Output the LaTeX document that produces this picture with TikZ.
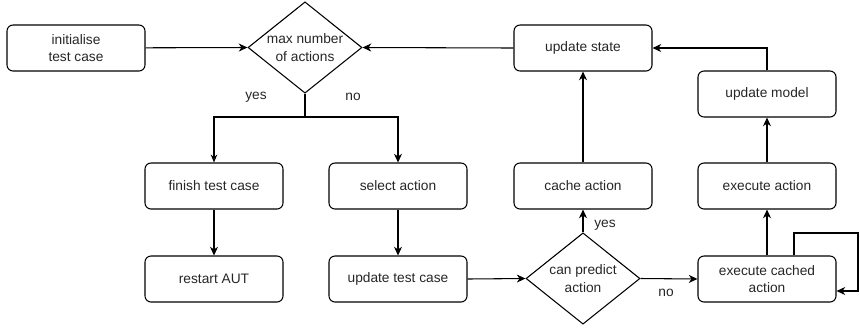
\documentclass[tikz,border=0pt]{standalone}
\usepackage{fontspec}
\setmainfont{Liberation Sans}
\usetikzlibrary{shapes.geometric,arrows.meta}
\begin{document}
\begin{tikzpicture}[x=0.75pt,y=-0.75pt,
  every node/.style={font=\fontsize{10.3}{12.9}\selectfont, text=black!85},
  box/.style={draw, rounded corners=4.5pt, minimum width=103.5pt, minimum height=34.5pt, inner sep=0pt, align=center, line width=0.8pt},
  decision/.style={draw, diamond, aspect=1.25, minimum width=85.5pt, minimum height=68.5pt, inner sep=0pt, align=center, line width=0.8pt},
  conn/.style={line width=0.8pt, -{Stealth[length=6.5pt, width=6pt, inset=2pt]}},
  openconn/.style={line width=0.8pt, -{Stealth[open, length=6pt, width=5pt, inset=2pt]}},
  plain/.style={line width=0.8pt},
  lbl/.style={inner sep=0pt}
]
\useasboundingbox (0,0) rectangle (860,330);

\node[box] (init) at (76,48) {initialise\\test case};
\node[decision] (max) at (305,47.5) {max number\\of actions};
\node[box] (ustate) at (583,48) {update state};
\node[box] (umodel) at (767,94) {update model};
\node[box] (finish) at (214,186) {finish test case};
\node[box] (select) at (398,186) {select action};
\node[box] (cache) at (583,186) {cache action};
\node[box] (exec) at (767,186) {execute action};
\node[box] (restart) at (214,279) {restart AUT};
\node[box] (utc) at (398,279) {update test case};
\node[decision] (pred) at (583,278.5) {can predict\\action};
\node[box] (ecached) at (767,279) {execute cached\\action};

\coordinate (br) at (305,117);
\coordinate (lx) at (794,0);
\coordinate (l1) at (858,233);
\coordinate (l2) at (858,291);

\draw[conn] (init) -- (max.west);
\draw[conn] (ustate.west) -- (max.east);
\draw[plain] (max.south) -- (br);
\draw[openconn] (br) -| (finish.north);
\draw[conn] (br) -| (select.north);
\draw[conn] (finish) -- (restart);
\draw[conn] (select) -- (utc);
\draw[conn] (utc.east) -- (pred.west);
\draw[conn] (pred.east) -- (ecached.west);
\draw[conn] (pred.north) -- (cache.south);
\draw[conn] (cache.north) -- (ustate.south);
\draw[conn] (ecached.north) -- (exec.south);
\draw[conn] (exec.north) -- (umodel.south);
\draw[conn] (umodel.north) |- (ustate.east);
\draw[conn] (ecached.north -| lx) |- (l1) -- (l2) -- (l2 -| ecached.east);

\node[lbl] (yes1) at (256,97) {yes};
\node[lbl] (no1) at (353,97) {no};
\node[lbl] (yes2) at (605,225) {yes};
\node[lbl] (no2) at (666,293) {no};
\end{tikzpicture}
\end{document}
